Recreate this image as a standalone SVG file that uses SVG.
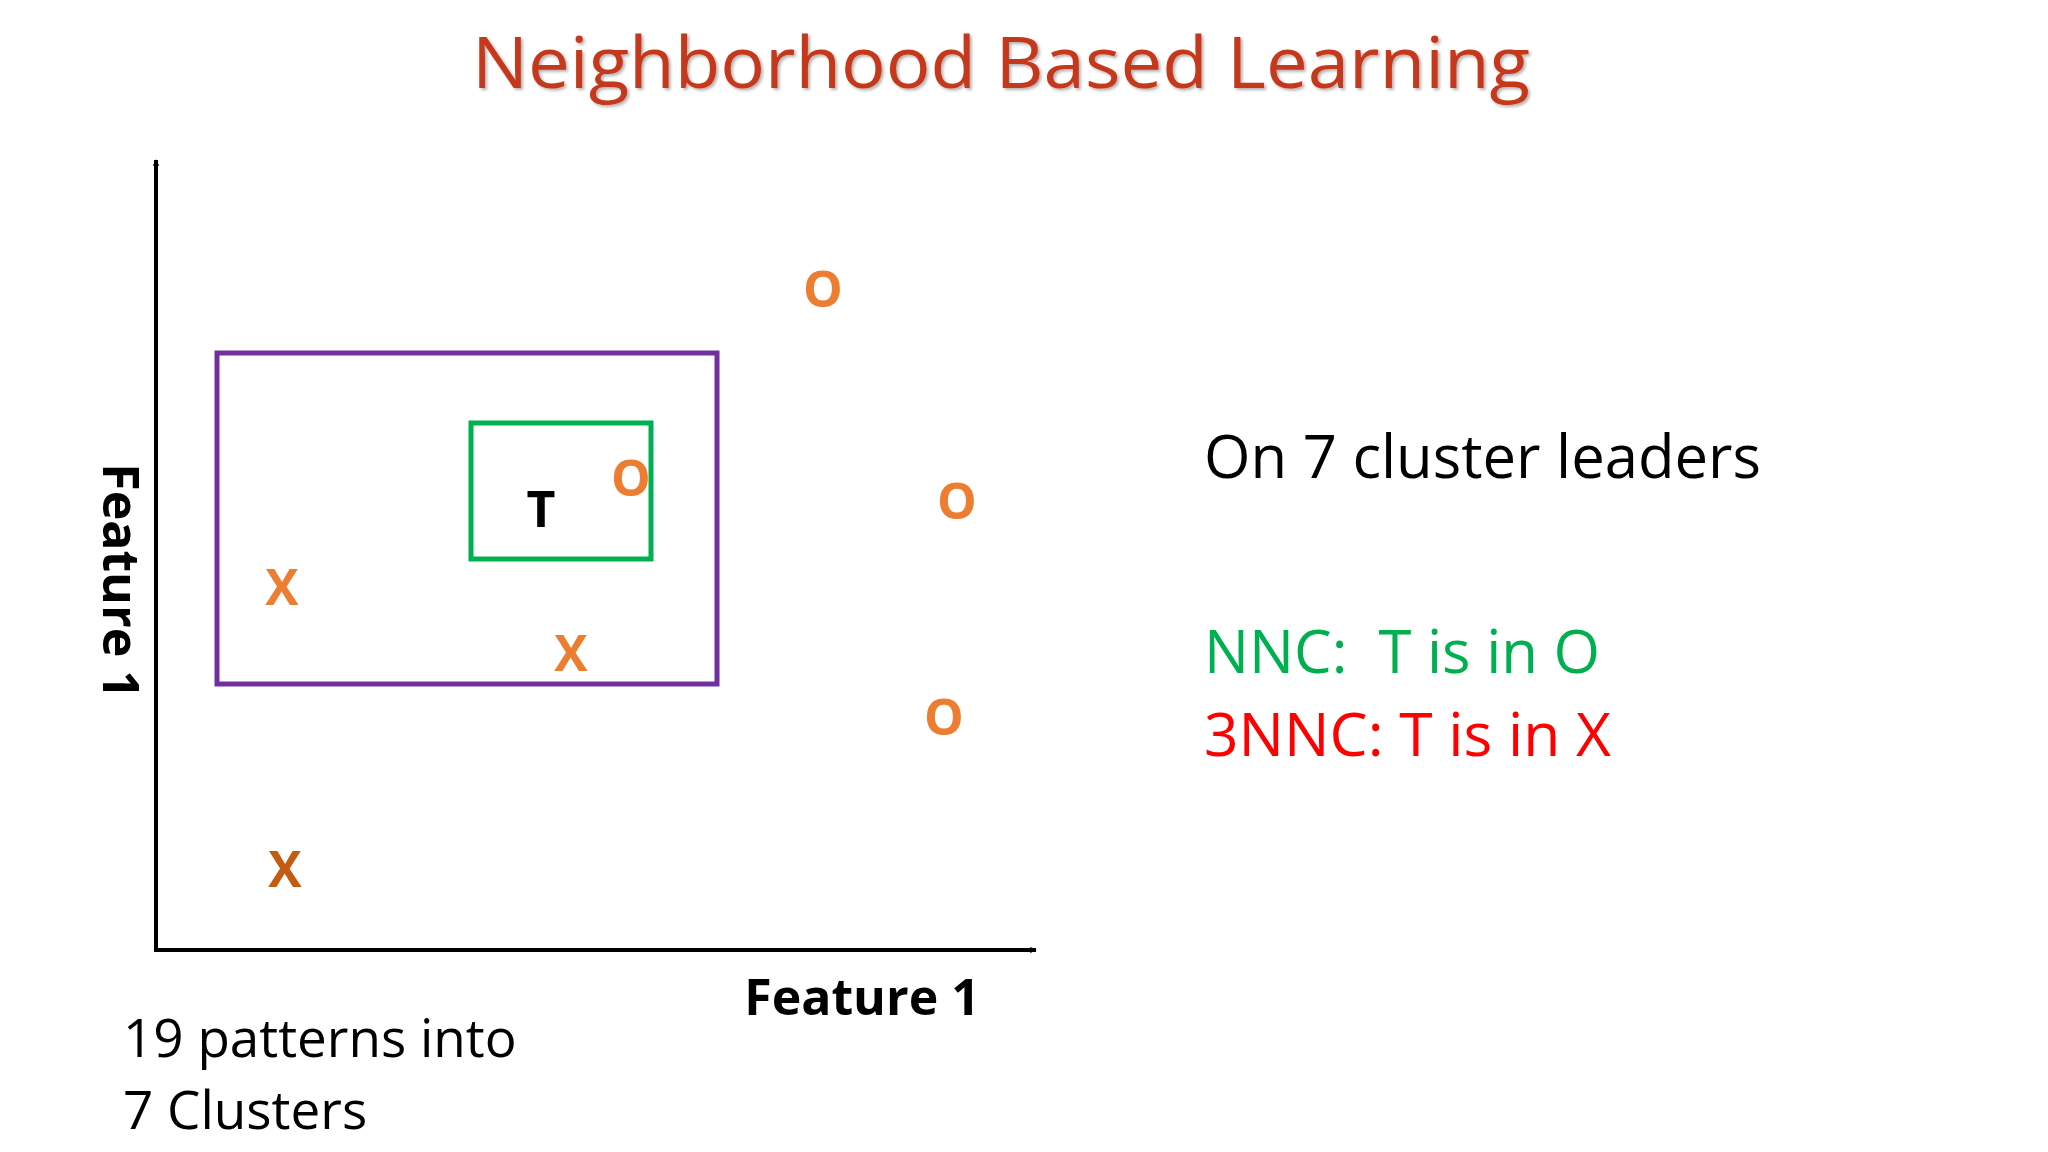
<svg xmlns="http://www.w3.org/2000/svg" width="2048" height="1152" viewBox="0 0 2048 1152">
<defs>
<marker id="ah" viewBox="0 0 10 10" refX="9" refY="5" markerWidth="7" markerHeight="7" orient="auto" markerUnits="userSpaceOnUse"><path d="M0,0 L10,5 L0,10 L3,5 z" fill="#000"/></marker>
<filter id="sh"><feDropShadow dx="2" dy="2" stdDeviation="1.5" flood-color="#000" flood-opacity="0.3"/></filter>
</defs>
<style>
text{font-family:"Open Sans","Liberation Sans",sans-serif}
.m{font-weight:bold;font-size:50px;text-anchor:middle;dominant-baseline:central}
.o{fill:#ED7D31}
.b{font-size:53px;fill:#000}
.r{font-size:60px}
</style>
<rect width="2048" height="1152" fill="#fff"/>
<text x="1001" y="88" font-size="72" fill="#C5391B" text-anchor="middle" filter="url(#sh)" textLength="1058" lengthAdjust="spacingAndGlyphs">Neighborhood Based Learning</text>
<g id="connectors" stroke="#000" stroke-width="4" fill="none">
<line x1="156" y1="952" x2="156" y2="160" marker-end="url(#ah)" stroke-width="4"/>
<line x1="154" y1="950" x2="1036" y2="950" marker-end="url(#ah)"/>
</g>
<g id="purple"><rect x="217" y="353" width="500" height="331" fill="none" stroke="#7030A0" stroke-width="5"/></g>
<g id="green"><rect x="471" y="423" width="180" height="136" fill="none" stroke="#00B050" stroke-width="5"/></g>
<g id="pts">
<text class="m" x="541" y="508" fill="#000">T</text>
<text class="m o" x="823" y="288">O</text>
<text class="m o" x="631" y="477">O</text>
<text class="m o" x="957" y="500">O</text>
<text class="m o" x="944" y="716">O</text>
<text class="m o" x="282" y="586">X</text>
<text class="m o" x="571" y="652">X</text>
<text class="m" x="285" y="868" fill="#C55A11">X</text>
</g>
<text x="122" y="581" font-size="50" font-weight="bold" text-anchor="middle" dominant-baseline="central" transform="rotate(90 122 581)">Feature 1</text>
<text x="862" y="1015" font-size="50" font-weight="bold" text-anchor="middle">Feature 1</text>
<text class="b" x="123" y="1057">19 patterns into</text>
<text class="b" x="123" y="1129">7 Clusters</text>
<text class="r" x="1204" y="478" fill="#000" textLength="557" lengthAdjust="spacingAndGlyphs">On 7 cluster leaders</text>
<text class="r" x="1204" y="673" fill="#00B050" textLength="396" lengthAdjust="spacingAndGlyphs" xml:space="preserve">NNC:  T is in O</text>
<text class="r" x="1204" y="756" fill="#FF0000" textLength="407" lengthAdjust="spacingAndGlyphs">3NNC: T is in X</text>
</svg>
